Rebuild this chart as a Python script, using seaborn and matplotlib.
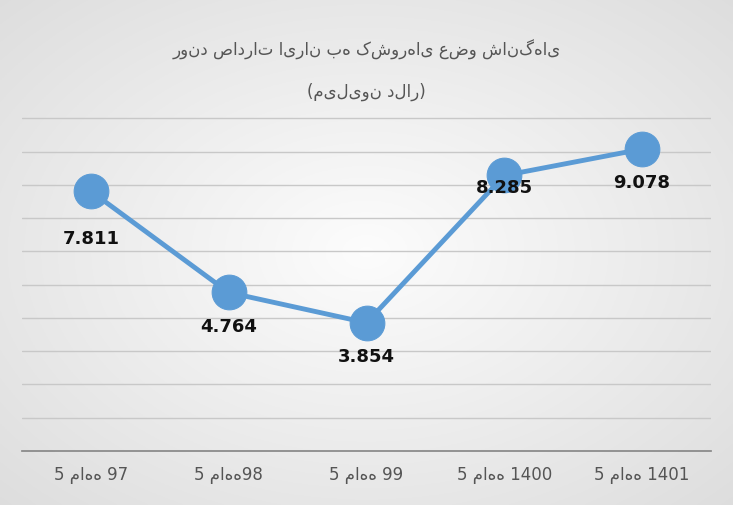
import numpy as np
import matplotlib
matplotlib.use("Agg")
import matplotlib.pyplot as plt
import seaborn as sns

categories = ["5 ماهه 97", "5 ماهه98", "5 ماهه 99", "5 ماهه 1400", "5 ماهه 1401"]
values = [7.811, 4.764, 3.854, 8.285, 9.078]
labels = ["7.811", "4.764", "3.854", "8.285", "9.078"]
title_line1 = "روند صادرات ایران به کشورهای عضو شانگهای"
title_line2 = "(میلیون دلار)"

sns.set_theme(style="white")
plt.rcParams['font.family'] = ['DejaVu Sans']

fig = plt.figure(figsize=(7.33, 5.06), dpi=100)
bg = fig.add_axes([0, 0, 1, 1], zorder=0)
yy, xx = np.mgrid[-1:1:300j, -1:1:400j]
r = np.sqrt(xx**2 + yy**2)
g = 0.99 - 0.12 * np.clip(r / 1.4, 0, 1)
bg.imshow(np.dstack([g, g, g]), extent=[0, 1, 0, 1], aspect="auto")
bg.axis("off")

ax = fig.add_axes([0.03, 0.107, 0.94, 0.72], zorder=1)
ax.patch.set_alpha(0)
x = np.arange(len(categories))
sns.lineplot(x=x, y=values, ax=ax, color="#5b9bd5", lw=3.5, marker="o",
             markersize=25, markeredgecolor="#5b9bd5", markerfacecolor="#5b9bd5")
offsets = [1.4, 1.0, 1.0, 0.35, 1.0]
for xi, v, lab, off in zip(x, values, labels, offsets):
    ax.text(xi, v - off, lab, ha="center", va="center", fontsize=13, fontweight="bold", color="#111")
ax.set_xlim(-0.5, 4.5)
ax.set_ylim(0, 10.96)
ax.set_yticks(np.arange(1, 11))
ax.set_yticklabels([])
ax.yaxis.grid(True, color="#c8c8c8", lw=1)
ax.set_xticks(x)
ax.set_xticklabels(categories, fontsize=12, color="#555")
ax.tick_params(axis="x", length=0, pad=10)
for s in ["top", "right", "left"]:
    ax.spines[s].set_visible(False)
ax.spines["bottom"].set_color("#888")
fig.text(0.5, 1 - 50 / 506, title_line1, ha="center", va="center", fontsize=12, color="#555")
fig.text(0.5, 1 - 92 / 506, title_line2, ha="center", va="center", fontsize=12, color="#555")
fig.savefig("out.png", dpi=100)
